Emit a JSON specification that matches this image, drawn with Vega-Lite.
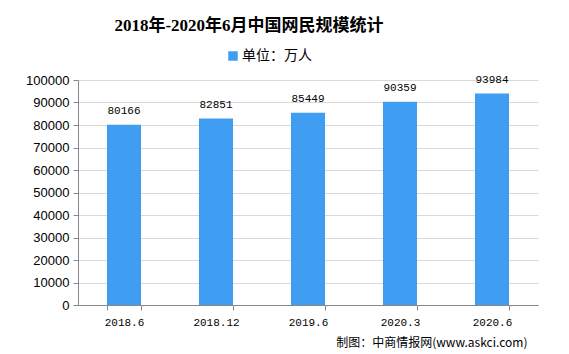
{
  "$schema": "https://vega.github.io/schema/vega-lite/v6.json",
  "width": 460,
  "height": 225,
  "autosize": {"type": "none"},
  "padding": {"left": 78, "top": 80, "right": 31, "bottom": 49},
  "background": "white",
  "title": {
    "text": "2018年-2020年6月中国网民规模统计",
    "font": "Liberation Serif, Noto Sans CJK SC",
    "fontSize": 17,
    "fontWeight": "bold",
    "color": "#000000",
    "anchor": "middle",
    "frame": "group",
    "dx": -59,
    "offset": 14
  },
  "data": {
    "values": [
      {"period": "2018.6", "value": 80166},
      {"period": "2018.12", "value": 82851},
      {"period": "2019.6", "value": 85449},
      {"period": "2020.3", "value": 90359},
      {"period": "2020.6", "value": 93984}
    ]
  },
  "encoding": {
    "x": {
      "field": "period",
      "type": "nominal",
      "sort": null,
      "scale": {"paddingInner": 0.63, "paddingOuter": 0.315},
      "axis": {
        "title": "制图：中商情报网(www.askci.com)",
        "titleFont": "Noto Sans CJK SC",
        "titleFontSize": 12,
        "titleFontWeight": "normal",
        "titleColor": "#000000",
        "titleAnchor": "end",
        "titleAlign": "right",
        "titleBaseline": "middle",
        "titleX": 449,
        "titleY": 37,
        "labelAngle": 0,
        "labelFont": "Liberation Mono",
        "labelFontSize": 11,
        "labelColor": "#000000",
        "labelPadding": 6,
        "tickBand": "extent",
        "tickSize": 5,
        "tickColor": "#888888",
        "domainColor": "#888888",
        "grid": false
      }
    },
    "y": {
      "field": "value",
      "type": "quantitative",
      "scale": {"domain": [0, 100000], "nice": false},
      "axis": {
        "title": null,
        "values": [0, 10000, 20000, 30000, 40000, 50000, 60000, 70000, 80000, 90000, 100000],
        "format": "d",
        "labelFont": "Liberation Sans",
        "labelFontSize": 13,
        "labelColor": "#000000",
        "labelPadding": 4,
        "tickSize": 5,
        "tickColor": "#888888",
        "domainColor": "#888888",
        "gridColor": "#d9d9d9"
      }
    }
  },
  "layer": [
    {
      "mark": {"type": "bar"},
      "encoding": {
        "color": {
          "datum": "单位：万人",
          "type": "nominal",
          "scale": {"range": ["#3f9ef2"]},
          "legend": {
            "title": null,
            "orient": "none",
            "legendX": 148,
            "legendY": -31,
            "symbolType": "square",
            "symbolSize": 90,
            "symbolStrokeWidth": 0,
            "labelFont": "Noto Sans CJK SC",
            "labelFontSize": 14,
            "labelColor": "#000000",
            "labelOffset": 2
          }
        }
      }
    },
    {
      "mark": {"type": "text", "baseline": "bottom", "dy": -9, "font": "Liberation Mono", "fontSize": 11, "color": "#000000"},
      "encoding": {"text": {"field": "value", "type": "quantitative", "format": "d"}}
    }
  ],
  "config": {"view": {"stroke": null}}
}
